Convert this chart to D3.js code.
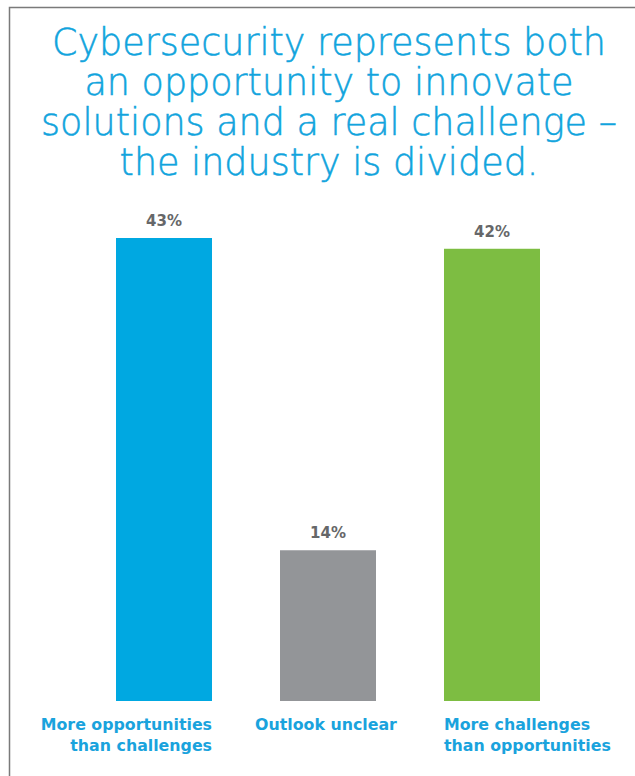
<!DOCTYPE html>
<html>
<head>
<meta charset="utf-8">
<script src="https://cdn.jsdelivr.net/npm/d3@7"></script>
<style>
  body { margin: 0; background: #fff; }
  svg { display: block; }
</style>
</head>
<body>
<div id="viz"></div>
<script>
// data
var categories = ["More opportunities|than challenges", "Outlook unclear", "More challenges|than opportunities"];
var values = [43, 14, 42];
var barColors = ["#00a8e1", "#939598", "#7dbd42"];
var titleLines = ["Cybersecurity represents both", "an opportunity to innovate", "solutions and a real challenge \u2013", "the industry is divided."];

var width = 635, height = 776;

var svg = d3.select("#viz")
  .append("svg")
  .attr("width", width)
  .attr("height", height);

// frame: top and left rule only
svg.append("path")
  .attr("d", "M9.5,776 V7.5 H635")
  .attr("fill", "none")
  .attr("stroke", "#7a7a7a")
  .attr("stroke-width", 1.5);

// title
svg.append("text")
  .attr("text-anchor", "middle")
  .attr("font-family", "'DejaVu Sans', sans-serif")
  .attr("font-weight", 200)
  .attr("font-size", 36.5)
  .attr("fill", "#11a4dd")
  .attr("stroke", "#11a4dd")
  .attr("stroke-width", 0.5)
  .selectAll("tspan")
  .data(titleLines)
  .enter().append("tspan")
  .attr("x", 329)
  .attr("y", function(d, i) { return 55 + i * 40; })
  .text(function(d) { return d; });

var x = d3.scaleBand()
  .domain(categories)
  .range([116, 540])
  .paddingInner(0.4146)
  .paddingOuter(0);

var y = d3.scaleLinear()
  .domain([0, 43])
  .range([701, 238]);

svg.selectAll("rect.bar")
  .data(values)
  .enter().append("rect")
  .attr("class", "bar")
  .attr("x", function(d, i) { return x(categories[i]); })
  .attr("y", function(d) { return y(d); })
  .attr("width", x.bandwidth())
  .attr("height", function(d) { return y(0) - y(d); })
  .attr("fill", function(d, i) { return barColors[i]; });

// value labels
svg.selectAll("text.val")
  .data(values)
  .enter().append("text")
  .attr("class", "val")
  .attr("x", function(d, i) { return x(categories[i]) + x.bandwidth() / 2; })
  .attr("y", function(d) { return y(d) - 12; })
  .attr("text-anchor", "middle")
  .attr("font-family", "'DejaVu Sans', sans-serif")
  .attr("font-weight", "bold")
  .attr("font-size", 15)
  .attr("fill", "#666769")
  .text(function(d) { return d + "%"; });

// category labels: first right aligned, middle centred, last left aligned
var anchors = ["end", "middle", "start"];
svg.selectAll("text.cat")
  .data(categories)
  .enter().append("text")
  .attr("class", "cat")
  .attr("text-anchor", function(d, i) { return anchors[i]; })
  .attr("font-family", "'DejaVu Sans', sans-serif")
  .attr("font-weight", "bold")
  .attr("font-size", 15.8)
  .attr("fill", "#1aa3dd")
  .each(function(d, i) {
    var xp = anchors[i] == "end" ? x(d) + x.bandwidth() : anchors[i] == "middle" ? x(d) + x.bandwidth() / 2 - 2 : x(d);
    d3.select(this).selectAll("tspan")
      .data(d.split("|"))
      .enter().append("tspan")
      .attr("x", xp)
      .attr("y", function(t, j) { return 730 + j * 21; })
      .text(function(t) { return t; });
  });
</script>
</body>
</html>
